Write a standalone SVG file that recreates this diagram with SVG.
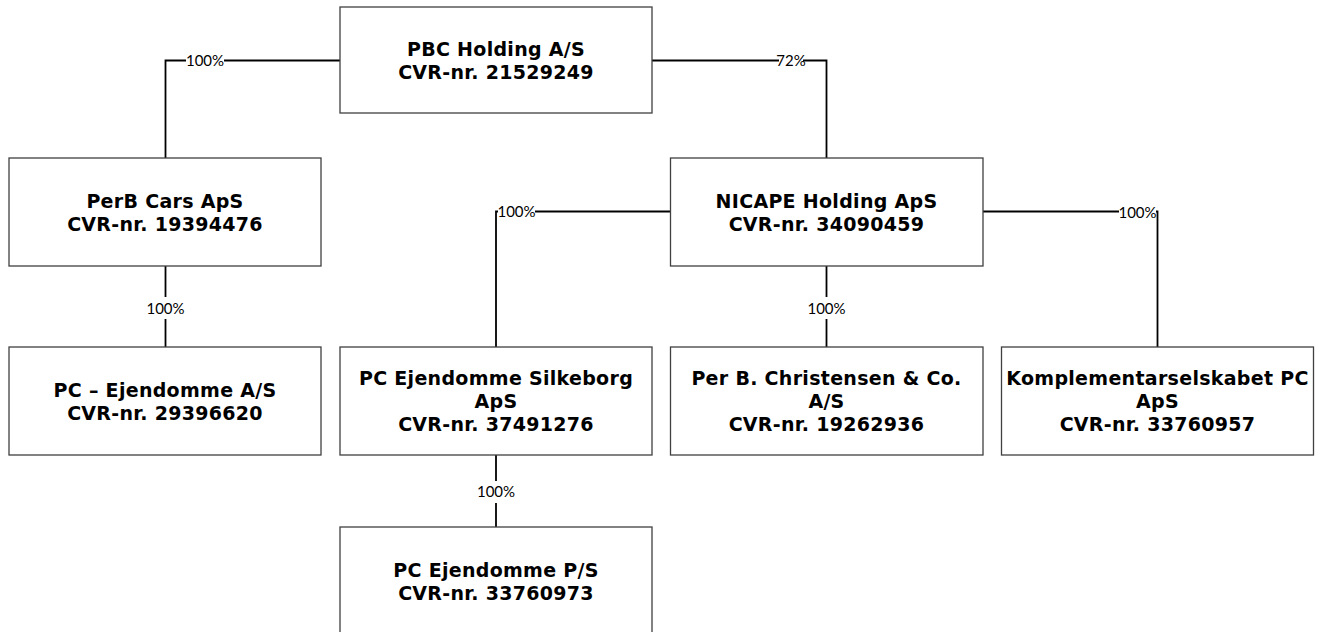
<svg xmlns="http://www.w3.org/2000/svg" width="1320" height="632" viewBox="0 0 1320 632">
  <style>
    .box { fill: #ffffff; stroke: #404040; stroke-width: 1.3; }
    .t { font-family: "DejaVu Sans", Verdana, sans-serif; font-weight: bold; font-size: 19px; letter-spacing: 0.3px; fill: #000; text-anchor: middle; }
    .ln { fill: none; stroke: #000; stroke-width: 1.8; }
    .lbl { font-family: Lato, "Liberation Sans", sans-serif; font-size: 15px; fill: #000; text-anchor: middle; }
    .bg { fill: #ffffff; }
  </style>
  <rect width="1320" height="632" fill="#ffffff"/>

  <g id="connectors">
    <path class="ln" d="M340,60.5 H165.5 V158"/>
    <path class="ln" d="M652,60.5 H826.5 V158"/>
    <path class="ln" d="M165.5,266 V347"/>
    <path class="ln" d="M670.5,211.5 H496 V347"/>
    <path class="ln" d="M826.5,266 V347"/>
    <path class="ln" d="M983,211.5 H1157.5 V347"/>
    <path class="ln" d="M496,455 V527"/>

    <rect class="bg" x="186" y="57" width="38" height="7"/>
    <text class="lbl" x="205" y="66">100%</text>

    <rect class="bg" x="779" y="57" width="24" height="7"/>
    <text class="lbl" x="791" y="66">72%</text>

    <rect class="bg" x="146" y="297" width="40" height="22"/>
    <text class="lbl" x="165.5" y="313.5">100%</text>

    <rect class="bg" x="498" y="208" width="37" height="7"/>
    <text class="lbl" x="516.5" y="217">100%</text>

    <rect class="bg" x="806" y="297" width="40" height="22"/>
    <text class="lbl" x="826.5" y="313.5">100%</text>

    <rect class="bg" x="1119" y="208" width="37" height="7"/>
    <text class="lbl" x="1137.5" y="218">100%</text>

    <rect class="bg" x="476" y="481" width="40" height="22"/>
    <text class="lbl" x="496" y="497">100%</text>
  </g>

  <g id="node-pbc">
    <rect class="box" x="340" y="7" width="312" height="106"/>
    <text class="t" x="496" y="55.5">PBC Holding A/S</text>
    <text class="t" x="496" y="78.5">CVR-nr. 21529249</text>
  </g>

  <g id="node-perb">
    <rect class="box" x="9" y="158" width="312" height="108"/>
    <text class="t" x="165" y="207.5">PerB Cars ApS</text>
    <text class="t" x="165" y="230.5">CVR-nr. 19394476</text>
  </g>

  <g id="node-nicape">
    <rect class="box" x="670.5" y="158" width="312.5" height="108"/>
    <text class="t" x="826.5" y="207.5">NICAPE Holding ApS</text>
    <text class="t" x="826.5" y="230.5">CVR-nr. 34090459</text>
  </g>

  <g id="node-pc-ejendomme">
    <rect class="box" x="9" y="347" width="312" height="108"/>
    <text class="t" x="165" y="396.5">PC – Ejendomme A/S</text>
    <text class="t" x="165" y="419.5">CVR-nr. 29396620</text>
  </g>

  <g id="node-silkeborg">
    <rect class="box" x="340" y="347" width="312" height="108"/>
    <text class="t" x="496" y="385">PC Ejendomme Silkeborg</text>
    <text class="t" x="496" y="408">ApS</text>
    <text class="t" x="496" y="431">CVR-nr. 37491276</text>
  </g>

  <g id="node-perbchristensen">
    <rect class="box" x="670.5" y="347" width="312.5" height="108"/>
    <text class="t" x="826.5" y="385">Per B. Christensen &amp; Co.</text>
    <text class="t" x="826.5" y="408">A/S</text>
    <text class="t" x="826.5" y="431">CVR-nr. 19262936</text>
  </g>

  <g id="node-komplementar">
    <rect class="box" x="1001.5" y="347" width="312" height="108"/>
    <text class="t" x="1157.5" y="385" letter-spacing="0">Komplementarselskabet PC</text>
    <text class="t" x="1157.5" y="408">ApS</text>
    <text class="t" x="1157.5" y="431">CVR-nr. 33760957</text>
  </g>

  <g id="node-pc-ejendomme-ps">
    <rect class="box" x="340" y="527" width="312" height="108"/>
    <text class="t" x="496" y="576.5">PC Ejendomme P/S</text>
    <text class="t" x="496" y="599.5">CVR-nr. 33760973</text>
  </g>
</svg>
